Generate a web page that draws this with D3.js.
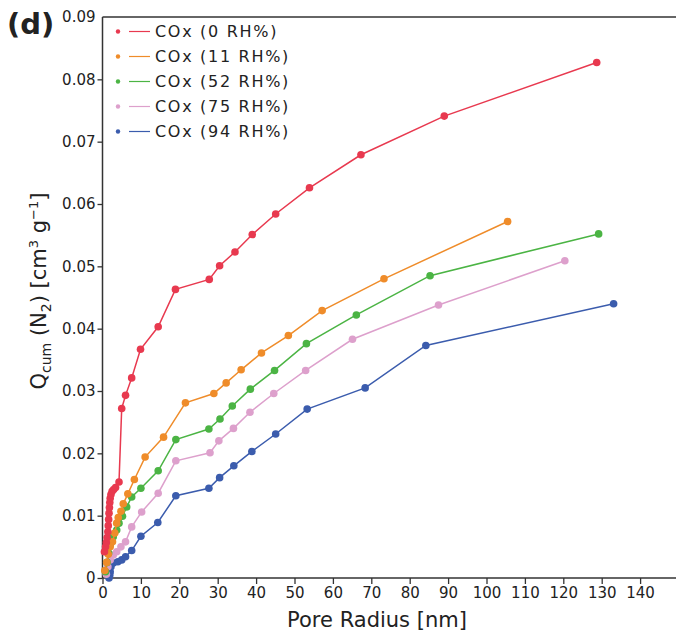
<!DOCTYPE html>
<html><head><meta charset="utf-8">
<script src="https://cdn.jsdelivr.net/npm/d3@7"></script>
<style>
html,body{margin:0;padding:0;background:#fff;}
svg{display:block;}
text{font-family:"DejaVu Sans",sans-serif;fill:#222;}
</style></head>
<body>
<svg id="chart" width="676" height="635"></svg>
<script>
const seriesNames = ["COx (0 RH%)","COx (11 RH%)","COx (52 RH%)","COx (75 RH%)","COx (94 RH%)"];
const seriesColors = ["#e8394f","#ef8c2a","#4bb444","#dda0cc","#3b5cad"];

const red = [[0.5,0.0042],[0.8,0.0050],[1.0,0.0057],[1.2,0.0065],[1.4,0.0074],[1.5,0.0084],[1.6,0.0094],[1.7,0.0104],[1.8,0.0113],[1.9,0.0121],[2.0,0.0128],[2.2,0.0134],[2.5,0.0139],[2.9,0.0142],[3.4,0.0145],[4.3,0.0154],[5.0,0.0272],[6.0,0.0293],[7.6,0.0321],[9.9,0.0367],[14.5,0.0403],[19.0,0.0463],[27.8,0.0479],[30.5,0.0501],[34.5,0.0523],[39.0,0.0551],[45.1,0.0584],[53.9,0.0626],[67.3,0.0679],[89.0,0.0741],[128.7,0.0827]];
const orange = [[0.6,0.0012],[1.1,0.0025],[1.5,0.0038],[2.0,0.0050],[2.6,0.0058],[3.2,0.0072],[3.7,0.0088],[4.1,0.0097],[4.8,0.0107],[5.4,0.0119],[6.6,0.0135],[8.3,0.0158],[11.1,0.0194],[15.9,0.0226],[21.6,0.0281],[29.0,0.0296],[32.2,0.0313],[36.1,0.0334],[41.4,0.0361],[48.4,0.0389],[57.2,0.0429],[73.3,0.0480],[105.5,0.0572]];
const green = [[0.8,0.0010],[1.2,0.0025],[1.6,0.0040],[2.0,0.0053],[2.8,0.0066],[3.7,0.0077],[4.3,0.0088],[5.2,0.0099],[6.3,0.0114],[7.6,0.0130],[10.0,0.0144],[14.5,0.0172],[19.1,0.0222],[27.7,0.0239],[30.6,0.0255],[33.8,0.0276],[38.5,0.0303],[44.8,0.0333],[53.1,0.0376],[66.1,0.0422],[85.3,0.0485],[129.2,0.0552]];
const pink = [[1.0,0.0006],[1.4,0.0018],[2.0,0.0029],[2.8,0.0037],[3.7,0.0042],[4.8,0.0050],[6.0,0.0058],[7.6,0.0082],[10.2,0.0106],[14.5,0.0136],[19.1,0.0188],[28.0,0.0201],[30.3,0.0220],[34.1,0.0240],[38.4,0.0266],[44.6,0.0296],[52.9,0.0333],[65.1,0.0383],[87.5,0.0438],[120.4,0.0509]];
const blue = [[1.7,0.0000],[1.9,0.0005],[2.0,0.0010],[2.2,0.0018],[2.8,0.0024],[4.0,0.0026],[5.0,0.0029],[6.0,0.0034],[7.6,0.0044],[10.0,0.0067],[14.4,0.0089],[19.1,0.0132],[27.7,0.0144],[30.5,0.0161],[34.2,0.0180],[38.9,0.0203],[45.1,0.0231],[53.3,0.0271],[68.4,0.0305],[84.2,0.0373],[133.1,0.0440]];

const xTicks = [0,10,20,30,40,50,60,70,80,90,100,110,120,130,140];
const yTicks = [0,0.01,0.02,0.03,0.04,0.05,0.06,0.07,0.08,0.09];
const yTickLabels = ["0","0.01","0.02","0.03","0.04","0.05","0.06","0.07","0.08","0.09"];

const allSeries = [red, orange, green, pink, blue];

(function(){
const svg = d3.select("#chart");
const mLeft = 102.5, mTop = 17, mBottom = 578, mRight = 678.5;
const x = d3.scaleLinear().domain([0,150]).range([mLeft, mRight]);
const y = d3.scaleLinear().domain([0,0.09]).range([mBottom, mTop]);

const axisColor = "#333";
const xAxis = svg.append("g").attr("transform",`translate(0,${mBottom})`)
  .call(d3.axisBottom(x).tickValues(xTicks).tickSize(6).tickPadding(3).tickFormat(d3.format("d")));
xAxis.select(".domain").remove();
xAxis.append("line").attr("x1",mLeft).attr("x2",676).attr("y1",0).attr("y2",0)
  .attr("stroke",axisColor).attr("stroke-width",1.5);
xAxis.selectAll(".tick line").attr("stroke",axisColor).attr("stroke-width",1.3);
xAxis.selectAll(".tick text").attr("font-size","15px").attr("fill","#222").attr("font-family","DejaVu Sans");

const yAxis = svg.append("g").attr("transform",`translate(${mLeft},0)`)
  .call(d3.axisLeft(y).tickValues(yTicks).tickSize(5).tickPadding(2).tickFormat((d,i)=>yTickLabels[i]));
yAxis.select(".domain").remove();
yAxis.append("line").attr("x1",0).attr("x2",0).attr("y1",mTop).attr("y2",mBottom)
  .attr("stroke",axisColor).attr("stroke-width",1.5);
yAxis.selectAll(".tick line").attr("stroke",axisColor).attr("stroke-width",1.3);
yAxis.selectAll(".tick").filter(d=>d===0.09).select("line").remove();
yAxis.selectAll(".tick text").attr("font-size","15px").attr("fill","#222").attr("font-family","DejaVu Sans");

svg.append("line").attr("x1",mLeft).attr("x2",676).attr("y1",mTop).attr("y2",mTop)
  .attr("stroke",axisColor).attr("stroke-width",1.5);

const line = d3.line().x(d=>x(d[0])).y(d=>y(d[1]));
const order = [4,3,2,1,0];
order.forEach(i=>{
  const data = allSeries[i];
  const g = svg.append("g");
  g.append("path").datum(data).attr("d",line).attr("fill","none")
    .attr("stroke",seriesColors[i]).attr("stroke-width",1.5);
  g.selectAll("circle").data(data).join("circle")
    .attr("cx",d=>x(d[0])).attr("cy",d=>y(d[1])).attr("r",3.8)
    .attr("fill",seriesColors[i]);
});

const lg = svg.append("g");
seriesNames.forEach((name,i)=>{
  const yy = 31.5 + i*25;
  lg.append("circle").attr("cx",118).attr("cy",yy).attr("r",2.2).attr("fill",seriesColors[i]);
  lg.append("line").attr("x1",129).attr("x2",150).attr("y1",yy).attr("y2",yy)
    .attr("stroke",seriesColors[i]).attr("stroke-width",1.2);
  lg.append("text").attr("x",155).attr("y",yy).attr("dy","0.35em")
    .attr("font-size","16px").attr("letter-spacing","1.7px").text(name);
});

svg.append("text").attr("x",377).attr("y",627).attr("text-anchor","middle")
  .attr("font-size","21px").text("Pore Radius [nm]");

const yt = svg.append("text").attr("transform","translate(46,291) rotate(-90)")
  .attr("text-anchor","middle").attr("font-size","21px");
yt.append("tspan").text("Q");
yt.append("tspan").attr("font-size","14px").attr("dy","5").text("cum");
yt.append("tspan").attr("dy","-5").text(" (N");
yt.append("tspan").attr("font-size","14px").attr("dy","5").text("2");
yt.append("tspan").attr("dy","-5").text(") [cm");
yt.append("tspan").attr("font-size","13px").attr("dy","-8").text("3");
yt.append("tspan").attr("dy","8").text(" g");
yt.append("tspan").attr("font-size","13px").attr("dy","-8").text("−1");
yt.append("tspan").attr("dy","8").text("]");

svg.append("text").attr("x",7).attr("y",34).attr("font-size","29px").attr("font-weight","bold")
  .attr("fill","#222").text("(d)");
})();
</script>
</body></html>
